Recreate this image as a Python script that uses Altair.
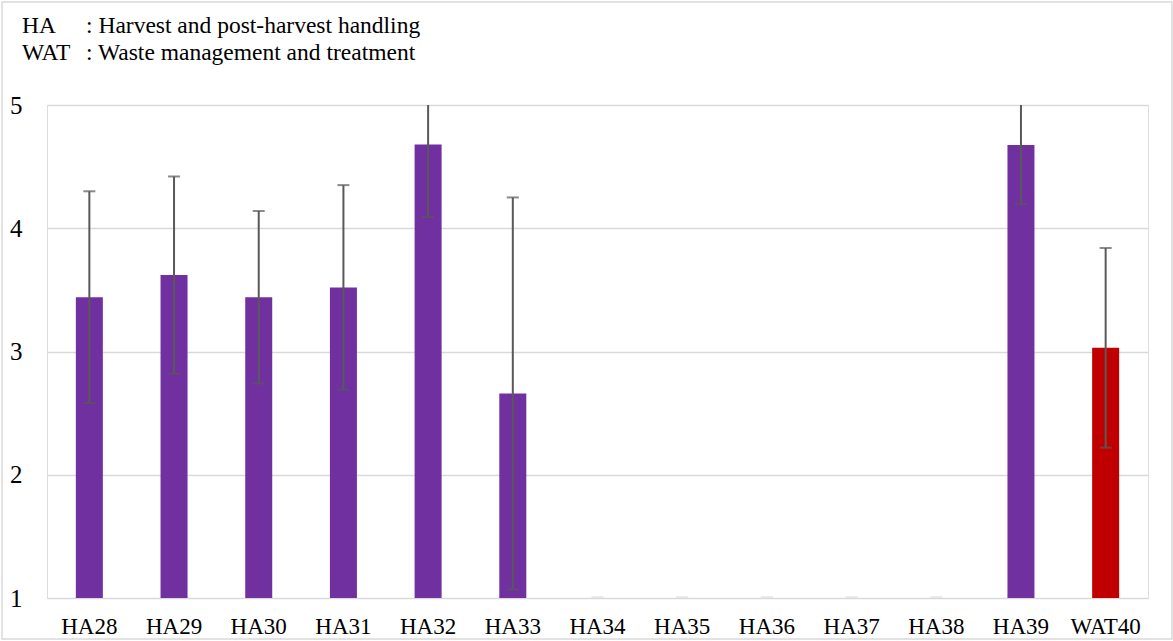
import altair as alt
import pandas as pd

# Survey items and their mean scores (1-5 scale) with standard deviations
items = ["HA28", "HA29", "HA30", "HA31", "HA32", "HA33", "HA34",
         "HA35", "HA36", "HA37", "HA38", "HA39", "WAT40"]
groups = ["HA"] * 12 + ["WAT"]
means = [3.44, 3.62, 3.44, 3.52, 4.68, 2.66, None, None, None, None, None, 4.675, 3.03]
sds = [0.86, 0.80, 0.70, 0.83, 0.59, 1.59, None, None, None, None, None, 0.48, 0.81]

legend_codes = ["HA", "WAT"]
legend_names = [": Harvest and post-harvest handling", ": Waste management and treatment"]

rows = []
for item, grp, m, s in zip(items, groups, means, sds):
    row = {"item": item, "group": grp, "mean": m, "sd": s, "base": 1.0}
    if m is not None:
        row["lo"] = m - s
        row["hi"] = m + s
    else:
        row["lo"] = None
        row["hi"] = None
    rows.append(row)
df = pd.DataFrame(rows)
scored = df[df["mean"].notna()]
empty = df[df["mean"].isna()]

legend_df = pd.DataFrame({"code": legend_codes, "name": legend_names, "line": [0, 1]})

FONT = "Liberation Serif"
W, H = 1101, 493

x_scale = alt.Scale(domain=items, paddingInner=0, paddingOuter=0)
y_scale = alt.Scale(domain=[1, 5], zero=False, nice=False)

x_enc = alt.X("item:N", sort=items, title=None, scale=x_scale,
              axis=alt.Axis(labelAngle=0, labelFont=FONT, labelFontSize=23,
                            labelColor="#000000", labelPadding=17, ticks=False,
                            domain=False, grid=False))

base = alt.Chart(scored)

bars = base.mark_bar(size=27).encode(
    x=x_enc,
    y=alt.Y("mean:Q", scale=y_scale, title=None,
            axis=alt.Axis(values=[1, 2, 3, 4, 5], format="d", labelFont=FONT,
                          labelFontSize=25, labelColor="#000000", labelPadding=25,
                          ticks=False, domain=False, gridColor="#d9d9d9",
                          gridWidth=1.5)),
    y2="base:Q",
    color=alt.Color("group:N", scale=alt.Scale(domain=["HA", "WAT"],
                                               range=["#7030A0", "#C00000"]),
                    legend=None),
)

whiskers = base.mark_rule(color="#595959", strokeWidth=2, clip=True).encode(
    x=alt.X("item:N", sort=items, scale=x_scale),
    y=alt.Y("lo:Q", scale=y_scale),
    y2="hi:Q",
)

caps_lo = base.mark_tick(color="#595959", size=12, thickness=2, clip=True).encode(
    x=alt.X("item:N", sort=items, scale=x_scale), y=alt.Y("lo:Q", scale=y_scale))
caps_hi = base.mark_tick(color="#595959", size=12, thickness=2, clip=True).encode(
    x=alt.X("item:N", sort=items, scale=x_scale), y=alt.Y("hi:Q", scale=y_scale))

# Items without a score leave only a faint stub on the floor of the axis
stubs = alt.Chart(empty).mark_tick(color="#d9d9d9", size=12, thickness=1.5,
                                   yOffset=-1).encode(
    x=alt.X("item:N", sort=items, scale=x_scale),
    y=alt.Y("base:Q", scale=y_scale))

# Abbreviation key above the plot
key_layers = []
for i, y_px in enumerate([-72, -45]):
    line = alt.Chart(legend_df).transform_filter(alt.datum.line == i)
    key_layers.append(line.mark_text(
        align="left", baseline="alphabetic", font=FONT, fontSize=23.5, color="#000000"
    ).encode(x=alt.value(-25), y=alt.value(y_px), text="code:N"))
    key_layers.append(line.mark_text(
        align="left", baseline="alphabetic", font=FONT, fontSize=23.5, color="#000000"
    ).encode(x=alt.value(39), y=alt.value(y_px), text="name:N"))

frame = alt.Chart(pd.DataFrame({"k": [0]})).mark_rect(
    fillOpacity=0, stroke="#d9d9d9", strokeWidth=1.5
).encode(
    x=alt.value(-45), x2=alt.value(W + 24),
    y=alt.value(-103), y2=alt.value(H + 41),
)

chart = alt.layer(frame, bars, whiskers, caps_lo, caps_hi, stubs, *key_layers).properties(
    width=W, height=H,
    autosize=alt.AutoSizeParams(type="none"),
    padding={"left": 47, "top": 105, "right": 25, "bottom": 43},
).configure_view(stroke=None).configure(background="#ffffff")

chart.save("out.html", embed_options={"renderer": "svg", "actions": False})
